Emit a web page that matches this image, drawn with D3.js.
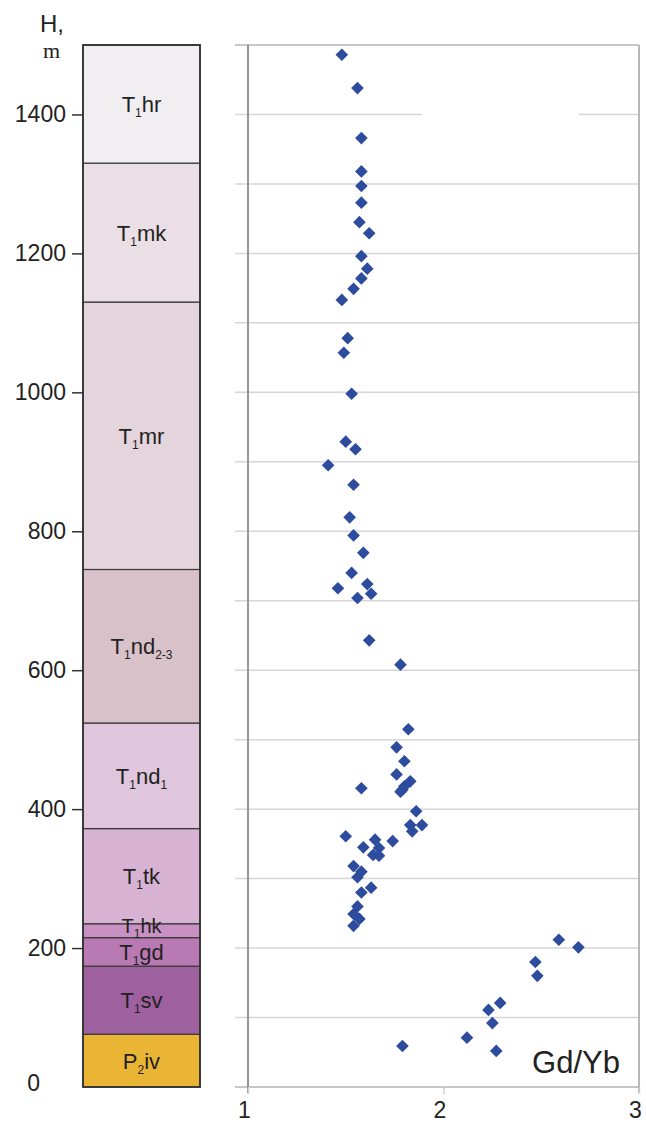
<!DOCTYPE html>
<html><head><meta charset="utf-8">
<script src="https://cdn.jsdelivr.net/npm/d3@7"></script>
<style>body{margin:0;background:#fff} text{font-family:"Liberation Sans",Arial,sans-serif;fill:#222}</style>
</head><body><svg id="c" width="646" height="1125"></svg>
<script>
// ---- data ----
const unitLabels = ["P{2}iv","T{1}sv","T{1}gd","T{1}hk","T{1}tk","T{1}nd{1}","T{1}nd{2-3}","T{1}mr","T{1}mk","T{1}hr"];
const unitBottoms = [0,76,174,215,235,372,524,745,1130,1330];
const unitTops    = [76,174,215,235,372,524,745,1130,1330,1500];
const unitColors  = ["#EAB535","#9E609E","#B97AB4","#C990C3","#D8B2D2","#DFC6DD","#D9C1CA","#E4D4DB","#E9DFE4","#F0EEF1"];
const depthTicks = [0,200,400,600,800,1000,1200,1400];
const gridDepths = [100,200,300,400,500,600,700,800,900,1000,1100,1200,1300,1400];
const ratioTicks = [1,2,3];
const depth = [1486,1438,1366,1318,1297,1273,1245,1229,1196,1178,1164,1149,1133,1078,1057,998,929,918,895,867,820,794,769,740,718,724,710,704,643,608,515,489,469,450,430,440,433,428,425,397,377,377,368,361,354,356,345,344,334,333,318,310,302,287,280,260,249,242,232,212,201,180,160,121,111,92,71,59,52];
const gdyb  = [1.48,1.56,1.58,1.58,1.58,1.58,1.57,1.62,1.58,1.61,1.58,1.54,1.48,1.51,1.49,1.53,1.50,1.55,1.41,1.54,1.52,1.54,1.59,1.53,1.46,1.61,1.63,1.56,1.62,1.78,1.82,1.76,1.80,1.76,1.58,1.83,1.80,1.79,1.78,1.86,1.83,1.89,1.84,1.50,1.74,1.65,1.59,1.67,1.64,1.67,1.54,1.58,1.56,1.63,1.58,1.56,1.54,1.57,1.54,2.59,2.69,2.47,2.48,2.29,2.23,2.25,2.12,1.79,2.27];

// ---- drawing ----
const svg = d3.select("#c");
svg.append("rect").attr("width",646).attr("height",1125).attr("fill","#fff");
const y = d3.scaleLinear().domain([0,1500]).range([1087,45]);
const x = d3.scaleLinear().domain([1,3]).range([248,639]);
const colL = 83, colR = 200;

// column
const units = unitLabels.map((l,i)=>({l,b:unitBottoms[i],t:unitTops[i],c:unitColors[i]}));
svg.selectAll("rect.unit").data(units).join("rect").attr("class","unit")
  .attr("x",colL).attr("width",colR-colL)
  .attr("y",d=>y(d.t)).attr("height",d=>y(d.b)-y(d.t))
  .attr("fill",d=>d.c).attr("stroke","#3a3a3a").attr("stroke-width",1.2);
svg.append("rect").attr("x",colL).attr("y",y(1500)).attr("width",colR-colL).attr("height",y(0)-y(1500))
  .attr("fill","none").attr("stroke","#333").attr("stroke-width",1.8);

units.forEach(d=>{
  const h = y(d.b)-y(d.t);
  const thin = h < 20;
  const cy = (y(d.t)+y(d.b))/2 + (thin ? 2 : 8);
  const t = svg.append("text").attr("x",(colL+colR)/2).attr("y",cy).attr("text-anchor","middle")
    .attr("font-size",thin?20:22).attr("fill","#2a2a2a");
  const parts = d.l.split(/(\{[^}]*\})/).filter(s=>s.length);
  let sub=false;
  parts.forEach(p=>{
    if(p[0]==="{"){
      t.append("tspan").text(p.slice(1,-1)).attr("font-size",12).attr("dy",5);
      sub=true;
    } else {
      t.append("tspan").text(p).attr("dy",sub?-5:0);
      sub=false;
    }
  });
});

// left depth axis
const ya = svg.append("g").attr("transform",`translate(${colL},0)`)
  .call(d3.axisLeft(y).tickValues(depthTicks).tickSize(11).tickPadding(6).tickFormat(d3.format("d")));
ya.select(".domain").remove();
ya.selectAll("line").attr("stroke","#333").attr("stroke-width",1.5);
ya.selectAll("text").attr("font-size",23).attr("fill","#222").attr("font-family","Liberation Sans, Arial, sans-serif");
ya.selectAll(".tick").filter(d=>d===0).select("line").remove();
ya.selectAll(".tick").filter(d=>d===0).select("text").attr("x",-43).attr("dy","0.15em");
svg.append("text").attr("x",40).attr("y",32).attr("font-size",24).text("H,");
svg.append("text").attr("x",43).attr("y",58).attr("font-size",22).style("font-family","Liberation Serif, Times New Roman, serif").text("m");

// right plot: grid
svg.selectAll("line.grid").data(gridDepths).join("line").attr("class","grid")
  .attr("x1",235).attr("x2",x(3)).attr("y1",d=>y(d)).attr("y2",d=>y(d))
  .attr("stroke","#d6d6d6").attr("stroke-width",1.5);
// gap in 1400 grid line
svg.append("rect").attr("x",x(1.89)).attr("width",x(2.69)-x(1.89)).attr("y",y(1400)-2).attr("height",4).attr("fill","#fff");
// frame
svg.append("line").attr("x1",235).attr("x2",x(3)).attr("y1",y(1500)).attr("y2",y(1500)).attr("stroke","#b5b5b5").attr("stroke-width",1.5);
svg.append("line").attr("x1",235).attr("x2",x(3)).attr("y1",y(0)).attr("y2",y(0)).attr("stroke","#b5b5b5").attr("stroke-width",1.5);
svg.append("line").attr("x1",x(1)).attr("x2",x(1)).attr("y1",y(1500)).attr("y2",y(0)+6).attr("stroke","#8a8a8a").attr("stroke-width",1.8);
svg.append("line").attr("x1",x(3)).attr("x2",x(3)).attr("y1",y(1500)).attr("y2",y(0)+6).attr("stroke","#a0a0a0").attr("stroke-width",1.5);
// x axis ticks
const xa = svg.append("g").attr("transform",`translate(0,${y(0)})`)
  .call(d3.axisBottom(x).tickValues(ratioTicks).tickSize(7).tickPadding(8).tickFormat(d3.format("d")));
xa.select(".domain").remove();
xa.selectAll("line").attr("stroke","#cfcfcf").attr("stroke-width",1.5);
xa.selectAll("text").attr("font-size",23).attr("fill","#222").attr("dx",-4).attr("font-family","Liberation Sans, Arial, sans-serif");

// points
const pts = depth.map((h,i)=>({h,v:gdyb[i]}));
const sym = d3.symbol().type(d3.symbolSquare).size(80);
svg.selectAll("path.pt").data(pts).join("path").attr("class","pt")
  .attr("d",sym).attr("transform",d=>`translate(${x(d.v)},${y(d.h)}) rotate(45)`)
  .attr("fill","#2D4C9E");

svg.append("text").attr("x",620).attr("y",1073).attr("text-anchor","end").attr("font-size",31).text("Gd/Yb");
</script></body></html>
